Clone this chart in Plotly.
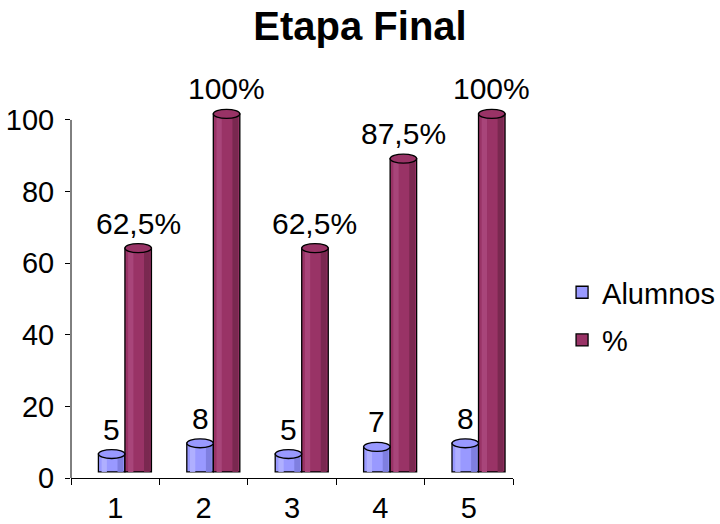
import plotly.graph_objects as go

# ---- data ----
categories = ["1", "2", "3", "4", "5"]
alumnos = [5, 8, 5, 7, 8]
porcentaje = [62.5, 100, 62.5, 87.5, 100]
alumnos_labels = ["5", "8", "5", "7", "8"]
porcentaje_labels = ["62,5%", "100%", "62,5%", "87,5%", "100%"]
y_ticks = [0, 20, 40, 60, 80, 100]
y_axis_max = 100

FONT = "Liberation Sans, Arial, sans-serif"
C_AL, C_AL_DARK, C_AL_LIGHT = "#9999FF", "#7F7FE0", "#AFAFFF"
C_PC, C_PC_DARK, C_PC_LIGHT = "#993366", "#7A2850", "#A8457A"
BASE = 1.7      # 3-D depth lift
W = 0.3         # bar width (category units)
CAP = 2.5       # cylinder cap height (data units)

series = [
    ("Alumnos", alumnos, alumnos_labels, C_AL, C_AL_DARK, C_AL_LIGHT, -0.19),
    ("%", porcentaje, porcentaje_labels, C_PC, C_PC_DARK, C_PC_LIGHT, 0.11),
]

fig = go.Figure()
shapes = [dict(type="line", xref="paper", yref="y", x0=0, x1=0, y0=0, y1=y_axis_max,
               line=dict(color="black", width=1), layer="above")]
annotations = []
for name, vals, labels, col, dark, light, off in series:
    fig.add_trace(go.Bar(
        x=categories, y=vals, base=[BASE] * len(vals), width=W, offset=off,
        marker=dict(color=col, line=dict(color="black", width=1.3)),
        name=name, legendgroup=name, cliponaxis=False,
    ))
    # cylinder shading stripes
    fig.add_trace(go.Bar(
        x=categories, y=vals, base=[BASE] * len(vals), width=W * 0.22,
        offset=off + W * 0.72, marker=dict(color=dark, line_width=0),
        showlegend=False, hoverinfo="skip", cliponaxis=False,
    ))
    fig.add_trace(go.Bar(
        x=categories, y=vals, base=[BASE] * len(vals), width=W * 0.2,
        offset=off + W * 0.12, marker=dict(color=light, line_width=0),
        showlegend=False, hoverinfo="skip", cliponaxis=False,
    ))
    for i, v in enumerate(vals):
        shapes.append(dict(
            type="circle", xref="x", yref="y", layer="above",
            x0=i + off, x1=i + off + W,
            y0=BASE + v - CAP / 2, y1=BASE + v + CAP / 2,
            fillcolor=col, line=dict(color="black", width=1.3),
        ))
        annotations.append(dict(
            x=i + off + W / 2, y=BASE + v + CAP / 2, xref="x", yref="y",
            text=labels[i], showarrow=False, yanchor="bottom", yshift=2,
            font=dict(family=FONT, size=30, color="black"),
        ))

fig.update_layout(
    width=720, height=524,
    margin=dict(l=71, r=207, t=77, b=46, autoexpand=False),
    paper_bgcolor="white", plot_bgcolor="white",
    barmode="overlay",
    title=dict(text="<b>Etapa Final</b>", x=0.5, xanchor="center",
               y=1 - 25.5 / 524, yanchor="middle",
               font=dict(family=FONT, size=40, color="black")),
    font=dict(family=FONT, size=29, color="black"),
    shapes=shapes, annotations=annotations,
    legend=dict(x=1.111, xanchor="left", y=0.403, yanchor="middle",
                traceorder="grouped", tracegroupgap=7,
                font=dict(family=FONT, size=29, color="black"),
                bgcolor="rgba(0,0,0,0)"),
    showlegend=True,
)
fig.update_xaxes(type="category", showline=True, linecolor="black", linewidth=1,
                 ticks="outside", tickson="boundaries", ticklen=6,
                 tickcolor="black", showgrid=False, zeroline=False,
                 range=[-0.5, 4.5], tickfont=dict(size=29), automargin=False,
                 ticklabelstandoff=4)
fig.update_yaxes(range=[0, 112], tickvals=y_ticks, showline=False,
                 ticks="outside", ticklen=5, tickcolor="black",
                 showgrid=False, zeroline=False, tickfont=dict(size=29),
                 ticklabelstandoff=5, automargin=False)

fig.write_html("out.html", config={"displayModeBar": False},
               post_script="document.body.style.margin='0';document.body.style.overflow='hidden';")
